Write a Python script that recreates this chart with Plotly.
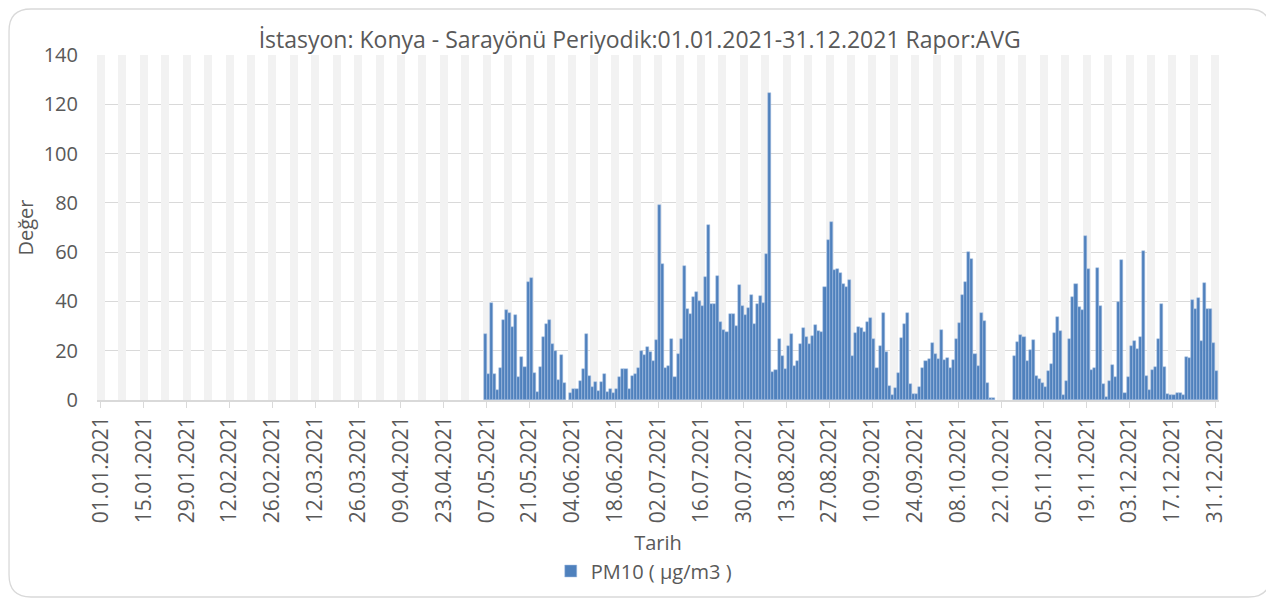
import plotly.graph_objects as go
import pandas as pd

# PM10 daily averages (µg/m3), 06.05.2021 - 31.12.2021; None = no measurement
pm10_may = [26.8, 10.5, 39.2, 10.5, 4.1, 13.0, 32.4, 36.5, 35.4, 29.5, 34.3, 9.5, 17.3,
            13.2, 47.7, 49.7, 11.1, 3.2, 13.2, 25.4, 30.8, 32.4, 22.7, 19.7, 8.1, 18.2]
pm10_jun = [7.0, None, 3.0, 4.5, 4.5, 7.8, 12.6, 26.8, 9.9, 5.1, 7.4, 3.5, 7.2, 10.4, 3.2,
            4.5, 2.8, 4.3, 9.5, 12.6, 12.4, 4.6, 9.8, 10.7, 12.9, 19.9, 18.2, 21.4, 19.3, 15.9]
pm10_jul = [24.4, 79.2, 55.0, 12.9, 13.7, 24.6, 9.4, 18.6, 24.7, 54.3, 37.0, 34.7, 41.8,
            43.8, 40.2, 38.3, 49.8, 71.1, 39.1, 39.1, 50.5, 31.8, 28.4, 27.5, 34.7, 34.7,
            29.9, 46.5, 38.3, 34.5, 37.4]
pm10_aug = [42.5, 30.9, 38.9, 42.2, 39.3, 59.2, 124.4, 11.5, 12.1, 24.7, 17.8, 12.5, 21.8,
            26.7, 13.6, 15.9, 22.7, 29.3, 25.5, 22.8, 26.1, 30.5, 28.1, 27.5, 45.9, 65.1,
            72.3, 52.6, 53.2, 51.6, 47.1]
pm10_sep = [46.0, 48.6, 17.8, 27.1, 29.6, 29.2, 27.7, 31.6, 33.4, 24.6, 12.9, 21.8, 35.5,
            19.3, 5.7, 2.2, 5.0, 10.9, 25.1, 30.9, 35.3, 6.5, 2.4, 2.3, 5.3, 13.0, 15.7,
            16.6, 23.1, 18.6]
pm10_oct = [16.6, 28.4, 16.4, 17.0, 12.8, 16.2, 24.6, 31.2, 42.6, 48.0, 60.1, 57.4, 18.6,
            13.9, 35.3, 31.9, 7.0, 0.9, 0.9, None, None, None, None, None, None, 18.0, 23.4,
            26.5, 25.7, 15.9, 20.3]
pm10_nov = [24.3, 9.9, 8.5, 7.0, 5.4, 11.6, 14.5, 27.0, 33.8, 27.8, 2.0, 7.8, 24.7, 41.6,
            47.2, 37.8, 36.6, 66.5, 53.0, 12.2, 12.8, 53.6, 38.2, 6.4, 1.4, 7.8, 14.2, 9.3,
            39.6, 57.0]
pm10_dec = [2.8, 9.2, 22.0, 23.8, 20.5, 25.4, 60.3, 9.6, 4.2, 12.2, 13.4, 24.9, 38.8, 13.5,
            2.4, 1.9, 1.9, 2.8, 2.8, 2.2, 17.3, 17.0, 40.4, 36.9, 41.5, 24.1, 47.3, 36.8,
            36.8, 23.2, 11.9]

pm10 = pm10_may + pm10_jun + pm10_jul + pm10_aug + pm10_sep + pm10_oct + pm10_nov + pm10_dec
dates = pd.date_range("2021-05-06", "2021-12-31", freq="D")

# weekly background bands (Fridays)
band_dates = pd.date_range("2021-01-01", "2021-12-31", freq="7D")
band_top = 140

DAY = 86400000
TXT = "#595959"
FONT = "Open Sans"

# figure sits 8px in from the page corner (body margin)
W, H = 1266, 592
# plot area in figure pixels
L, R, T, B = 89, 1211.5, 47, 392


def px_to_paper(x, y):
    return (x - L) / (R - L), (B - y) / (B - T)


def rounded_border(x0, y0, x1, y1, r):
    pts = [("M", x0 + r, y0), ("L", x1 - r, y0), ("Q", x1, y0, x1, y0 + r),
           ("L", x1, y1 - r), ("Q", x1, y1, x1 - r, y1), ("L", x0 + r, y1),
           ("Q", x0, y1, x0, y1 - r), ("L", x0, y0 + r), ("Q", x0, y0, x0 + r, y0)]
    parts = []
    for p in pts:
        cmd, coords = p[0], p[1:]
        xy = []
        for i in range(0, len(coords), 2):
            a, b = px_to_paper(coords[i], coords[i + 1])
            xy.append(f"{a:.5f},{b:.5f}")
        parts.append(cmd + " " + " ".join(xy))
    return " ".join(parts) + " Z"


fig = go.Figure()
fig.add_trace(go.Bar(
    x=band_dates, y=[band_top] * len(band_dates),
    width=2.6 * DAY,
    marker=dict(color="#f2f2f2", line=dict(width=0)),
    showlegend=False, hoverinfo="skip",
))
fig.add_trace(go.Bar(
    x=dates, y=pm10,
    width=DAY, offset=0,
    name="PM10 ( µg/m3 )",
    marker=dict(color="#4F81BD", line=dict(color="#a9c2e4", width=0.5)),
))

fig.update_layout(
    width=W, height=H,
    barmode="overlay",
    paper_bgcolor="white", plot_bgcolor="white",
    font=dict(family=FONT, color=TXT, size=20),
    margin=dict(l=L, r=W - R, t=T, b=H - B, autoexpand=False),
    title=dict(
        text="İstasyon: Konya - Sarayönü Periyodik:01.01.2021-31.12.2021 Rapor:AVG",
        x=(632 - L) / (R - L), xref="paper", xanchor="center",
        y=1 - 32 / H, yanchor="middle",
        font=dict(size=23, color=TXT, family=FONT),
    ),
    legend=dict(
        orientation="h", x=(636 - L) / (R - L), xanchor="center",
        y=(B - 563) / (B - T), yanchor="middle",
        font=dict(size=20, color=TXT), bgcolor="rgba(0,0,0,0)",
    ),
    bargap=0,
    shapes=[dict(type="path", xref="paper", yref="paper",
                 path=rounded_border(1, 1, 1263, 589, 22),
                 line=dict(color="#d9d9d9", width=1.3), layer="below")],
)

fig.update_xaxes(
    type="date",
    range=[pd.Timestamp("2020-12-30 16:48"), pd.Timestamp("2022-01-01 05:00")],
    tick0="2021-01-01", dtick=14 * DAY, tickformat="%d.%m.%Y",
    tickangle=-90, tickfont=dict(size=21, color=TXT),
    ticks="outside", ticklen=6, tickcolor="#d9d9d9",
    showgrid=False, showline=True, linecolor="#d9d9d9", linewidth=1.5,
    title=dict(text="Tarih", font=dict(size=20, color=TXT), standoff=14),
    automargin=False,
)
fig.update_yaxes(
    range=[0, 140], dtick=20,
    tickfont=dict(size=20, color=TXT),
    showgrid=True, gridcolor="#d9d9d9", gridwidth=1.3,
    zeroline=False, showline=False,
    ticklabelstandoff=18,
    title=dict(text="Değer", font=dict(size=20, color=TXT), standoff=4),
    automargin=False,
)

fig.write_html("out.html")
